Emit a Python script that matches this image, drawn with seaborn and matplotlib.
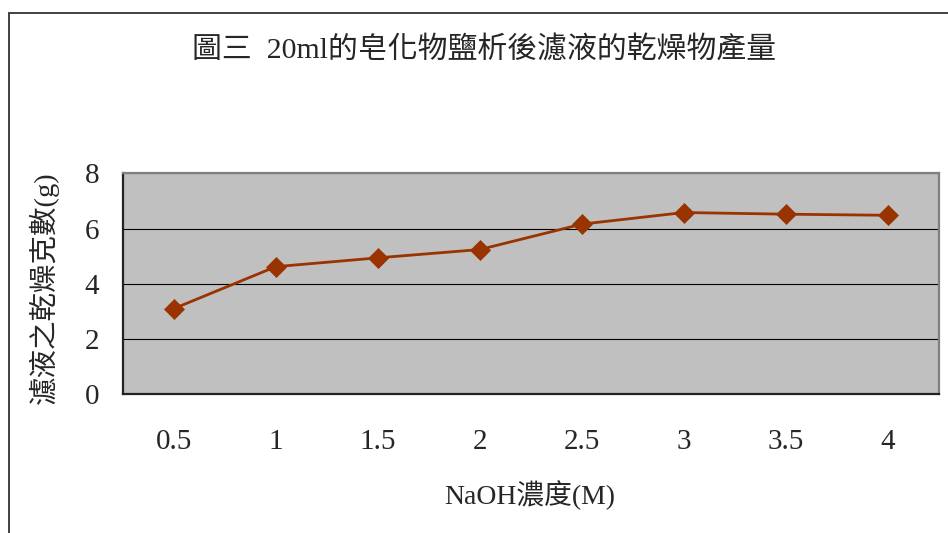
import numpy as np
import pandas as pd
import matplotlib
matplotlib.use("Agg")
import matplotlib.pyplot as plt
from matplotlib.patches import Rectangle
from matplotlib.ticker import FixedLocator, FixedFormatter, NullFormatter
import seaborn as sns

# data
naoh_conc = ['0.5', '1', '1.5', '2', '2.5', '3', '3.5', '4']
dry_mass = [3.10, 4.62, 4.94, 5.24, 6.16, 6.58, 6.52, 6.48]
y_ticks = [0, 2, 4, 6, 8]

TITLE = '圖三  20ml的皂化物鹽析後濾液的乾燥物產量'
XLABEL = 'NaOH濃度(M)'
YLABEL = '濾液之乾燥克數(g)'

sns.set_style("white")
plt.rcParams['font.family'] = ['Liberation Serif', 'Noto Sans CJK TC', 'DejaVu Sans']

df = pd.DataFrame({'conc': naoh_conc, 'mass': dry_mass})

fig = plt.figure(figsize=(9.48, 5.33), dpi=100)
ax = fig.add_axes([122.7 / 948, 1 - 394.3 / 533, (939 - 122.7) / 948, (394.3 - 173.3) / 533])
ax.set_facecolor('#C0C0C0')

sns.lineplot(data=df, x='conc', y='mass', ax=ax, sort=False, color='#993300',
             linewidth=2.0, marker='D', markersize=10, markeredgecolor='#993300',
             markeredgewidth=0.5, zorder=3)

# y axis
ax.set_ylim(0, 8)
ax.set_yticks(y_ticks)
ax.grid(axis='y', color='black', linewidth=0.8)
ax.grid(axis='x', visible=False)
ax.tick_params(axis='y', direction='in', length=6, width=1, color='black',
               labelsize=21, pad=17)

# x axis: category boundaries get tick marks, labels sit at the centres
n = len(naoh_conc)
ax.set_xlim(-0.5, n - 0.5)
ax.xaxis.set_major_locator(FixedLocator(np.arange(0.5, n - 0.5, 1)))
ax.xaxis.set_major_formatter(NullFormatter())
ax.xaxis.set_minor_locator(FixedLocator(np.arange(n)))
ax.xaxis.set_minor_formatter(FixedFormatter(naoh_conc))
ax.tick_params(axis='x', which='major', direction='in', length=6.5, width=1, color='black')
ax.tick_params(axis='x', which='minor', length=0, labelsize=21, pad=25)
ax.set_xlabel('')
ax.set_ylabel('')

for side in ['left', 'bottom']:
    ax.spines[side].set_color('#222222')
    ax.spines[side].set_linewidth(1.6)
for side in ['top', 'right']:
    ax.spines[side].set_color('#808080')
    ax.spines[side].set_linewidth(1.6)

# texts
fig.text(484.5 / 948, 1 - 50 / 533, TITLE, fontsize=21.5, ha='center', va='center')
fig.text(530 / 948, 1 - 495 / 533, XLABEL, fontsize=20, ha='center', va='center')
fig.text(44 / 948, 1 - 288 / 533, YLABEL, fontsize=20.5, ha='center', va='center', rotation=90)

# chart area frame (cropped at right and bottom)
fig.patches.append(Rectangle((9 / 948, -0.2), 1.5, 1.2 - 13.3 / 533,
                             transform=fig.transFigure, fill=False,
                             edgecolor='#333333', linewidth=1.3))

fig.savefig('out.png', dpi=100)
